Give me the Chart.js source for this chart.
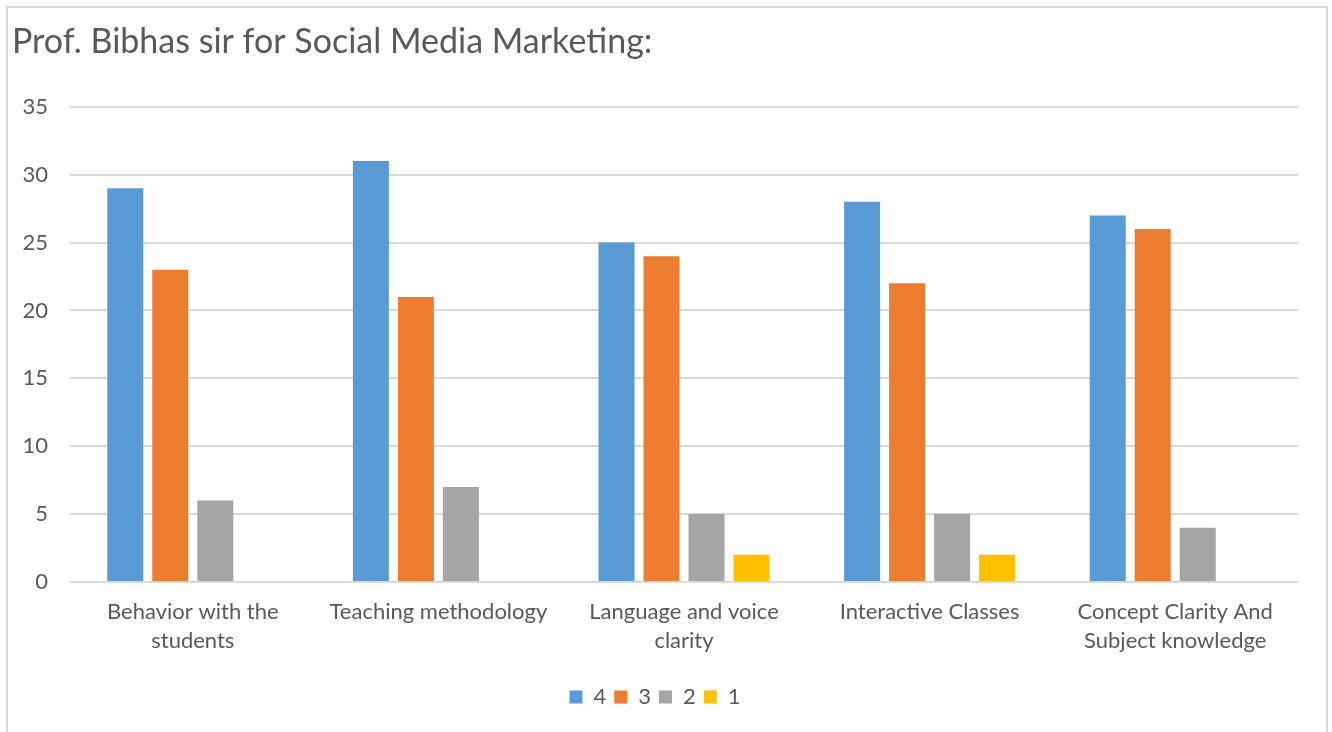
<!DOCTYPE html>
<html lang="en">
<head>
    <meta charset="UTF-8">
    <title>Prof. Bibhas sir for Social Media Marketing</title>
    <script src="https://cdn.jsdelivr.net/npm/chart.js@4.4.0/dist/chart.umd.min.js"></script>
    <style>
        body {
            margin: 0;
            background: #ffffff;
        }

        .frame {
            position: absolute;
            left: 6px;
            top: 6px;
            width: 1322px;
            height: 740px;
            border: 2px solid #d9d9d9;
            box-sizing: border-box;
        }

        .chart-container {
            position: absolute;
            left: 0;
            top: 0;
            width: 1332px;
            height: 732px;
        }
    </style>
</head>
<body>
    <div class="frame"></div>
    <div class="chart-container">
        <canvas id="myChart"></canvas>
    </div>

    <script>
        const categories = [
            ['Behavior with the', 'students'],
            'Teaching methodology',
            ['Language and voice', 'clarity'],
            'Interactive Classes',
            ['Concept Clarity And', 'Subject knowledge']
        ];
        const rating4 = [29, 31, 25, 28, 27];
        const rating3 = [23, 21, 24, 22, 26];
        const rating2 = [6, 7, 5, 5, 4];
        const rating1 = [0, 0, 2, 2, 0];

        const textColor = '#595959';
        const fontFamily = 'Lato, "Open Sans", sans-serif';

        const data = {
            labels: categories,
            datasets: [
                { label: '4', data: rating4, backgroundColor: '#5b9bd5' },
                { label: '3', data: rating3, backgroundColor: '#ed7d31' },
                { label: '2', data: rating2, backgroundColor: '#a5a5a5' },
                { label: '1', data: rating1, backgroundColor: '#ffc000' }
            ]
        };

        const config = {
            type: 'bar',
            data,
            options: {
                responsive: true,
                maintainAspectRatio: false,
                animation: false,
                datasets: {
                    bar: {
                        categoryPercentage: 0.733,
                        barPercentage: 0.8
                    }
                },
                layout: {
                    padding: { left: 12, right: 34, top: 14, bottom: 14 }
                },
                scales: {
                    y: {
                        min: 0,
                        max: 35,
                        afterFit: axis => { axis.width = 58; },
                        ticks: {
                            stepSize: 5,
                            color: textColor,
                            padding: 22,
                            font: { size: 22, family: fontFamily }
                        },
                        grid: {
                            color: '#d9d9d9',
                            lineWidth: 2,
                            drawTicks: false
                        },
                        border: { display: false }
                    },
                    x: {
                        afterFit: axis => { axis.height = 96; },
                        ticks: {
                            color: textColor,
                            padding: 7,
                            maxRotation: 0,
                            font: { size: 22, family: fontFamily, lineHeight: 1.32 }
                        },
                        grid: { display: false },
                        border: { display: false }
                    }
                },
                plugins: {
                    title: {
                        display: true,
                        text: 'Prof. Bibhas sir for Social Media Marketing:',
                        align: 'start',
                        color: textColor,
                        font: { size: 34, family: fontFamily, weight: 'normal' },
                        padding: { top: 8, bottom: 44 }
                    },
                    legend: {
                        position: 'bottom',
                        labels: {
                            color: textColor,
                            boxWidth: 13,
                            boxHeight: 13,
                            padding: 8,
                            font: { size: 22, family: fontFamily }
                        }
                    },
                    tooltip: { enabled: false }
                }
            }
        };

        const ctx = document.getElementById('myChart').getContext('2d');
        const myChart = new Chart(ctx, config);
    </script>
</body>
</html>
